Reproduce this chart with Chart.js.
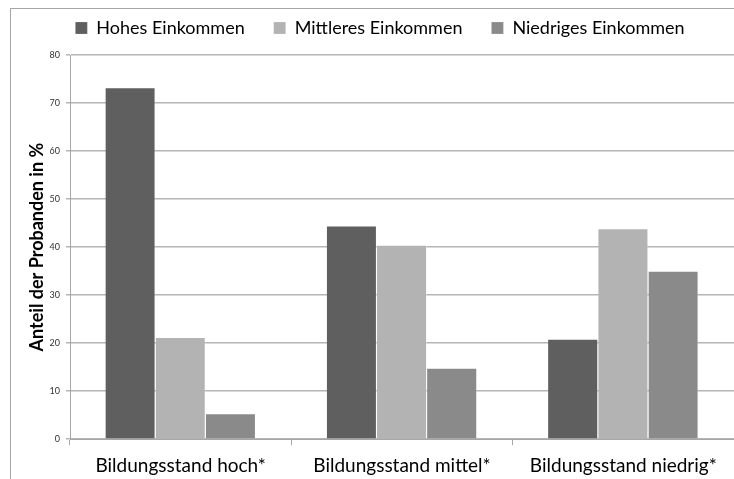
<!DOCTYPE html>
<html><head><meta charset="utf-8">
<script src="https://cdn.jsdelivr.net/npm/chart.js@4/dist/chart.umd.min.js"></script>
<style>
html,body{margin:0;padding:0;background:#fff;overflow:hidden}
#wrap{position:absolute;left:0;top:0;width:734px;height:479px}
#frame{position:absolute;left:10px;top:8px;width:800px;height:600px;border:1px solid #a6a6a6;box-sizing:border-box}
canvas{position:absolute;left:0;top:0}
</style></head><body>
<div id="wrap"><div id="frame"></div><canvas id="c" width="734" height="479"></canvas></div>
<script>
const categories = ["Bildungsstand hoch*", "Bildungsstand mittel*", "Bildungsstand niedrig*"];
const seriesNames = ["Hohes Einkommen", "Mittleres Einkommen", "Niedriges Einkommen"];
const hohes = [73.3, 44.5, 20.9];
const mittleres = [21.3, 40.5, 43.9];
const niedriges = [5.4, 14.9, 35.1];
const yTicks = [0, 10, 20, 30, 40, 50, 60, 70, 80];
const colors = ["#5f5f5f", "#b3b3b3", "#8a8a8a"];
const FONT = "Lato";

const legendTweak = {
  id: 'legendTweak',
  beforeLayout(chart) {
    const lg = chart.legend;
    if (lg && !lg._patched) {
      const f = lg.fit;
      lg.fit = function () { f.call(this); this.height += 8; };
      lg._patched = true;
    }
  },
  afterLayout(chart) { chart.legend.left += 13; chart.legend.right += 13; }
};

new Chart(document.getElementById('c'), {
  type: 'bar',
  data: {
    labels: categories,
    datasets: [hohes, mittleres, niedriges].map((d, i) => ({
      label: seriesNames[i], data: d, backgroundColor: colors[i],
      borderColor: 'rgba(255,255,255,0.35)', borderWidth: {right:1, top:1, left:0, bottom:0},
      categoryPercentage: 0.68, barPercentage: 1.0
    }))
  },
  plugins: [legendTweak],
  options: {
    responsive: false, animation: false,
    layout: {padding: {left: 0, right: 0, top: -10, bottom: -7}},
    plugins: {
      tooltip: {enabled: false},
      legend: {
        position: 'top',
        labels: {boxWidth: 12, boxHeight: 12, padding: 29, color: '#000',
                 font: {family: FONT, size: 18}},
        onClick: null
      }
    },
    scales: {
      x: {
        offset: true,
        grid: {display: true, drawOnChartArea: false, drawTicks: true, tickLength: 6, offset: true, color: '#a6a6a6'},
        border: {color: '#a6a6a6'},
        ticks: {color: '#000', font: {family: FONT, size: 19}, padding: 9, maxRotation: 0}
      },
      y: {
        min: 0, max: 80,
        afterBuildTicks: s => { s.ticks = yTicks.map(v => ({value: v})); },
        afterFit: s => { s.width = 70; },
        grid: {color: '#b5b5b5', lineWidth: 1.5, tickLength: 4},
        border: {color: '#a6a6a6'},
        ticks: {color: '#333', font: {family: FONT, size: 9}, padding: 6},
        title: {display: true, text: 'Anteil der Probanden in %', color: '#000',
                font: {family: FONT, size: 18, weight: 'bold'}, padding: {top: 26, bottom: 0}}
      }
    }
  }
});
</script></body></html>
